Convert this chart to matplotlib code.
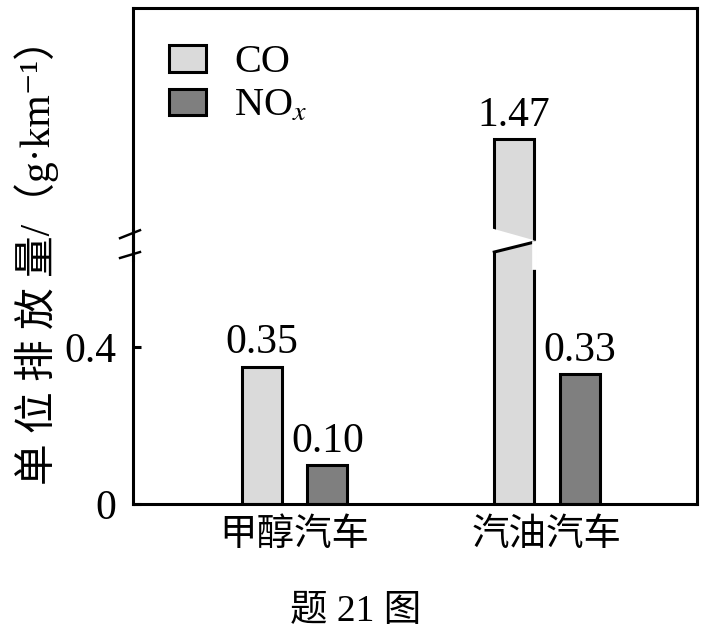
import numpy as np
import matplotlib
matplotlib.use("Agg")
import matplotlib.pyplot as plt
from matplotlib.patches import Patch, Polygon
from matplotlib.lines import Line2D
import matplotlib.transforms as mtransforms

plt.rcParams['mathtext.fontset'] = 'stix'

# ---- data ----
categories = ["甲醇汽车", "汽油汽车"]
series_names = ["CO", "NO$_x$"]
co_values = [0.35, 1.47]
nox_values = [0.10, 0.33]
value_labels_co = ["0.35", "1.47"]
value_labels_nox = ["0.10", "0.33"]
ytick_values = [0, 0.4]
ytick_labels = ["0", "0.4"]
ylabel_text = "单 位 排 放 量/（g·km⁻¹）"
caption_text = "题 21 图"

co_color = "#dadada"
nox_color = "#7f7f7f"
LW = 2.2
SERIF = ['Liberation Serif', 'Noto Sans CJK SC', 'DejaVu Sans']
CJK = ['Noto Sans CJK SC', 'Liberation Serif', 'DejaVu Sans']

# broken y scale: linear below b, compressed above
b, k = 0.66, 1.0 / 3.0
def fwd(v):
    v = np.asarray(v, dtype=float)
    return np.where(v <= b, v, b + (v - b) * k)
def inv(u):
    u = np.asarray(u, dtype=float)
    return np.where(u <= b, u, b + (u - b) / k)

fig = plt.figure(figsize=(7.11, 6.35), dpi=100)
ax = fig.add_axes([133/711, 1 - 504/635, (697-133)/711, (504-8)/635])
ax.set_yscale('function', functions=(fwd, inv))

x = np.arange(len(categories))
w = 0.158
off = 0.13
bars_co = ax.bar(x - off, co_values, w, color=co_color, edgecolor='black', linewidth=LW, label=series_names[0], zorder=2)
bars_nox = ax.bar(x + off, nox_values, w, color=nox_color, edgecolor='black', linewidth=LW, label=series_names[1], zorder=2)

ax.bar_label(bars_co, labels=value_labels_co, padding=3, fontsize=30, family=SERIF)
ax.bar_label(bars_nox, labels=value_labels_nox, padding=3, fontsize=30, family=SERIF)

ax.set_xlim(-0.64, 1.594)
ax.set_ylim(0, 2.47)
ax.set_yticks(ytick_values)
ax.set_yticklabels(ytick_labels, fontsize=30, family=SERIF)
ax.yaxis.set_minor_locator(matplotlib.ticker.NullLocator())
ax.tick_params(axis='y', direction='in', length=6, width=LW, pad=12)
ax.set_xticks(x)
ax.set_xticklabels(categories, fontsize=27, family=CJK, fontweight='medium')
ax.tick_params(axis='x', length=0, pad=8)

for s in ['top', 'right', 'bottom']:
    ax.spines[s].set_linewidth(LW)
ax.spines['left'].set_visible(False)

# left axis with break
ax.add_line(Line2D([0, 0], [0, 0.552], transform=ax.transAxes, color='black', lw=LW, clip_on=False, solid_capstyle='projecting'))
ax.add_line(Line2D([0, 0], [0.492, 1.0], transform=ax.transAxes, color='black', lw=LW, clip_on=False, solid_capstyle='projecting'))
ax.add_line(Line2D([-0.023, 0.0124], [0.536, 0.552], transform=ax.transAxes, color='black', lw=LW*0.8, clip_on=False))
ax.add_line(Line2D([-0.023, 0.0124], [0.496, 0.508], transform=ax.transAxes, color='black', lw=LW*0.8, clip_on=False))

# break in the tall bar
tb = bars_co[1]
trans = mtransforms.blended_transform_factory(ax.transData, ax.transAxes)
L = tb.get_x()
R = tb.get_x() + tb.get_width()
pad = 0.012
gap = Polygon([[L - pad, 0.556], [R + pad, 0.530], [R + pad, 0.527], [L - pad, 0.507]],
              closed=True, transform=trans, facecolor='white', edgecolor='none', zorder=3)
ax.add_patch(gap)
ax.add_line(Line2D([L, R], [0.508, 0.528], transform=trans, color='black', lw=LW, zorder=4))
ax.add_line(Line2D([R, R], [0.478, 0.526], transform=trans, color='white', lw=LW + 1.2, zorder=4))

# legend
handles = [Patch(facecolor=co_color, edgecolor='black', linewidth=LW),
           Patch(facecolor=nox_color, edgecolor='black', linewidth=LW)]
leg = ax.legend(handles, series_names, loc='upper left', frameon=False,
                prop={'family': SERIF, 'size': 29}, handlelength=0.92, handleheight=0.65,
                handletextpad=0.7, labelspacing=0.17, borderpad=0.4, borderaxespad=0.5)

fig.text(37/711, 1 - 252/635, ylabel_text, rotation=90, ha='center', va='center',
         fontsize=30, family=SERIF, fontweight='medium')
fig.text(356/711, 1 - 612/635, caption_text, ha='center', va='center',
         fontsize=27, family=SERIF, fontweight='medium')

fig.savefig("out.png", dpi=100)
